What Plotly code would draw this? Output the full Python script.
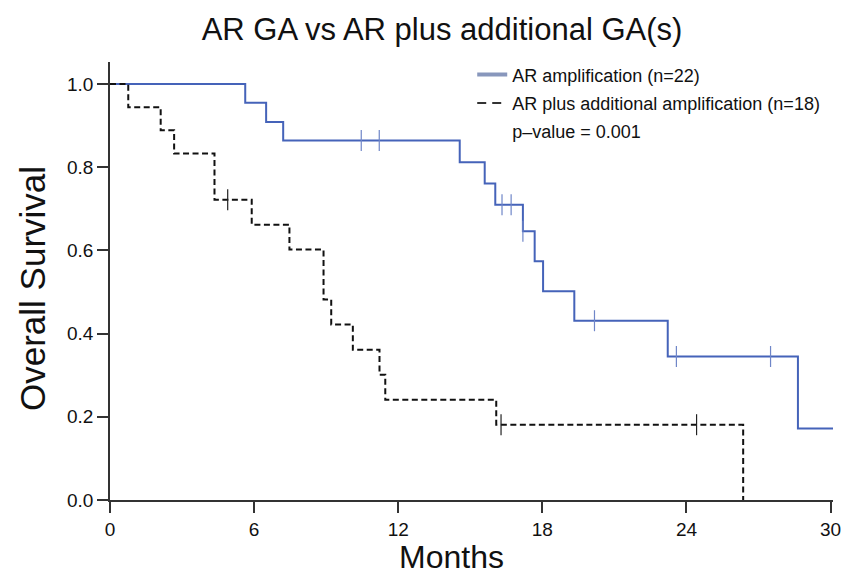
import numpy as np
import plotly.graph_objects as go

# ---- data ----
ar_time = [0, 5.63, 6.50, 7.21, 14.56, 15.60, 16.04, 17.19, 17.68, 18.03, 19.33, 23.22, 28.64, 30.1]
ar_surv = [1.0, 0.955, 0.909, 0.864, 0.812, 0.761, 0.710, 0.646, 0.574, 0.502, 0.431, 0.345, 0.172, 0.172]
ar_cens = [10.46, 11.21, 16.32, 16.70, 17.19, 20.17, 23.58, 27.50]

arplus_time = [0, 0.76, 2.11, 2.67, 4.35, 5.90, 7.47, 8.89, 9.21, 10.11, 11.22, 11.46, 16.08, 26.36]
arplus_surv = [1.0, 0.944, 0.889, 0.833, 0.722, 0.662, 0.602, 0.482, 0.422, 0.361, 0.301, 0.241, 0.181, 0.0]
arplus_cens = [4.90, 16.28, 24.42]

x_ticks = [0, 6, 12, 18, 24, 30]
y_ticks = [0.0, 0.2, 0.4, 0.6, 0.8, 1.0]
y_ticklabels = ["0.0", "0.2", "0.4", "0.6", "0.8", "1.0"]

legend_names = ["AR amplification (n=22)", "AR plus additional amplification (n=18)", "p\u2013value = 0.001"]
title_text = "AR GA vs AR plus additional GA(s)"

BLUE = "#4563B9"
FONT = "Liberation Sans, Arial, Helvetica, sans-serif"


def step_value(times, surv, t):
    idx = np.searchsorted(np.array(times), t, side="right") - 1
    return [surv[i] for i in idx]


fig = go.Figure()

# curves
fig.add_trace(go.Scatter(x=ar_time, y=ar_surv, mode="lines", line=dict(color=BLUE, width=2, shape="hv"),
                         showlegend=False, hoverinfo="skip"))
fig.add_trace(go.Scatter(x=ar_cens, y=step_value(ar_time, ar_surv, ar_cens), mode="markers",
                         marker=dict(symbol="line-ns", size=15, line=dict(color="#6F86C8", width=1.2)),
                         showlegend=False, hoverinfo="skip"))
fig.add_trace(go.Scatter(x=arplus_time, y=arplus_surv, mode="lines",
                         line=dict(color="#111111", width=2, shape="hv", dash="6px,3.5px"),
                         showlegend=False, hoverinfo="skip"))
fig.add_trace(go.Scatter(x=arplus_cens, y=step_value(arplus_time, arplus_surv, arplus_cens), mode="markers",
                         marker=dict(symbol="line-ns", size=15, line=dict(color="#222222", width=1.2)),
                         showlegend=False, hoverinfo="skip"))

# legend entries
fig.add_trace(go.Scatter(x=[None], y=[None], mode="lines", name=legend_names[0],
                         line=dict(color="#8897BC", width=4), legendgroup="a"))
fig.add_trace(go.Scatter(x=[None], y=[None], mode="lines", name=legend_names[1],
                         line=dict(color="#333333", width=2, dash="9px,6px"), legendgroup="b"))
fig.add_trace(go.Scatter(x=[None], y=[None], mode="lines", name=legend_names[2],
                         line=dict(color="rgba(0,0,0,0)", width=1), legendgroup="c"))

fig.update_layout(
    width=844, height=579,
    paper_bgcolor="white", plot_bgcolor="white",
    margin=dict(l=110, r=11, t=62, b=79, autoexpand=False),
    font=dict(family=FONT, color="#111111"),
    title=dict(text=title_text, x=442 / 844, xref="container", xanchor="center",
               y=1 - 29 / 579, yref="container", yanchor="middle",
               font=dict(size=31, family=FONT, color="#111111")),
    legend=dict(x=0.501, y=1.013, xanchor="left", yanchor="top", bgcolor="rgba(0,0,0,0)",
                font=dict(size=18, family=FONT, color="#111111"), tracegroupgap=2,
                itemwidth=30),
    showlegend=True,
)

fig.update_xaxes(range=[0, 30.1], tickvals=x_ticks, ticktext=[str(v) for v in x_ticks],
                 automargin=False,
                 showgrid=False, zeroline=False, showline=True, linecolor="#333333", linewidth=1.5,
                 ticks="outside", ticklen=11, tickwidth=1.5, tickcolor="#333333",
                 tickfont=dict(size=19, family=FONT, color="#111111"))
fig.update_yaxes(range=[0, 1.053], tickvals=y_ticks, ticktext=y_ticklabels,
                 automargin=False,
                 showgrid=False, zeroline=False, showline=True, linecolor="#333333", linewidth=1.5,
                 ticks="outside", ticklen=11, tickwidth=1.5, tickcolor="#333333",
                 tickfont=dict(size=19, family=FONT, color="#111111"))

# axis titles as annotations
fig.add_annotation(text="Overall Survival", xref="paper", yref="paper",
                   x=(32 - 110) / 723, y=(500 - 289) / 438, textangle=-90, showarrow=False,
                   xanchor="center", yanchor="middle", font=dict(size=35, family=FONT, color="#111111"))
fig.add_annotation(text="Months", xref="paper", yref="paper",
                   x=(451 - 110) / 723, y=-(557 - 500) / 438, showarrow=False,
                   xanchor="center", yanchor="middle", font=dict(size=32, family=FONT, color="#111111"))

fig.write_html("out.html", config={"displayModeBar": False},
               post_script="document.body.style.margin='0px';document.body.style.padding='0px';")
